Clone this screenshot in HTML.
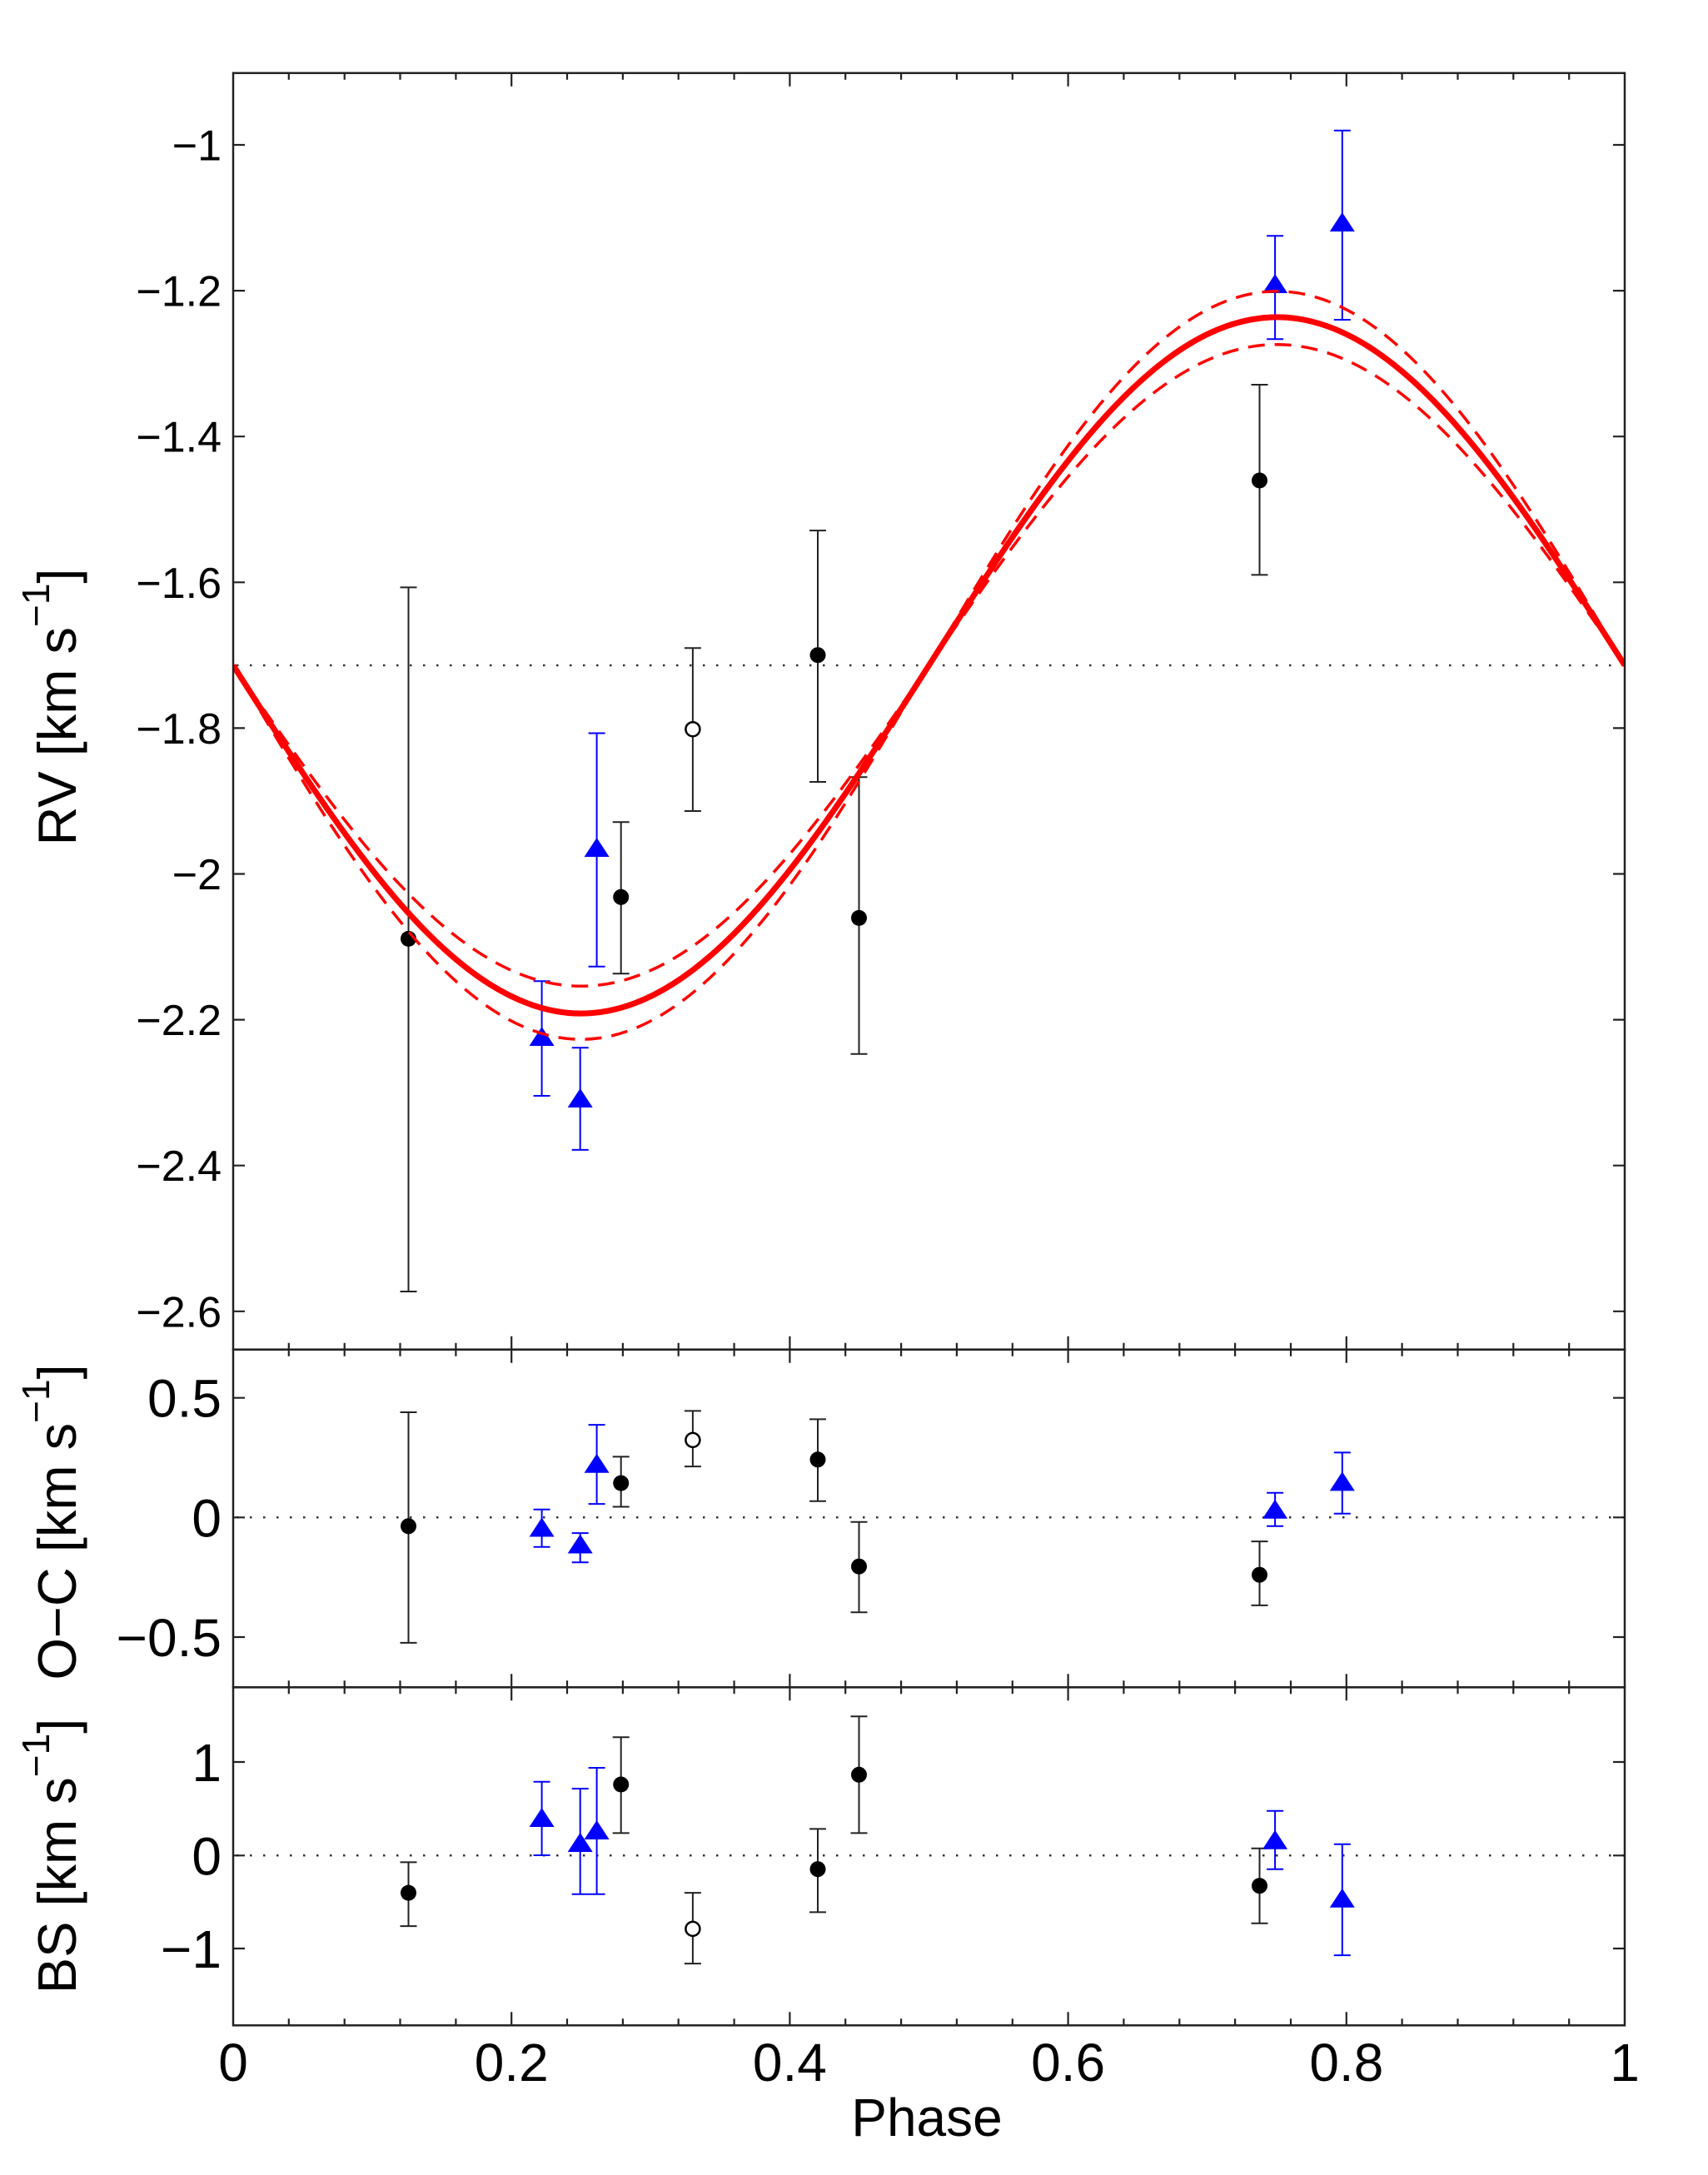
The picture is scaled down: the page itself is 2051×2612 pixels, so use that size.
<!DOCTYPE html>
<html>
<head>
<meta charset="utf-8">
<style>
html,body{margin:0;padding:0;background:#fff;}
svg{display:block;}
text{font-family:"Liberation Sans","DejaVu Sans",sans-serif;fill:#000;}
</style>
</head>
<body>
<svg width="2051" height="2612" viewBox="0 0 2051 2612" xmlns="http://www.w3.org/2000/svg">
<rect x="0" y="0" width="2051" height="2612" fill="#fff"/>
<defs>
<g id="xt" stroke="#222" stroke-width="2.2" fill="none">
<path d="M346.8,0v8M413.7,0v8M480.5,0v8M547.4,0v8M681,0v8M747.9,0v8M814.7,0v8M881.6,0v8M1015.2,0v8M1082.1,0v8M1148.9,0v8M1215.8,0v8M1349.4,0v8M1416.3,0v8M1483.1,0v8M1550,0v8M1683.6,0v8M1750.5,0v8M1817.3,0v8M1884.2,0v8"/>
<path d="M614.2,0v16M948.4,0v16M1282.6,0v16M1616.8,0v16"/>
</g>
<clipPath id="cTop"><rect x="280" y="87.7" width="1671" height="1533"/></clipPath>
</defs>

<!-- dotted zero lines -->
<g stroke="#333" stroke-width="2.5" stroke-dasharray="2.5 13.5" fill="none">
<path d="M284,799H1951"/>
<path d="M284,1822.3H1951"/>
<path d="M284,2228.3H1951"/>
</g>

<!-- ===== TOP PANEL DATA ===== -->
<g fill="none" stroke="#222" stroke-width="2">
<path d="M490.5,705.4V1551M480.5,705.4h20M480.5,1551h20"/>
<path d="M745.7,987.3V1169.3M735.7,987.3h20M735.7,1169.3h20"/>
<path d="M982,637.1V939M972,637.1h20M972,939h20"/>
<path d="M1031.5,933.3V1265.8M1021.5,933.3h20M1021.5,1265.8h20"/>
<path d="M1512.5,462V690.4M1502.5,462h20M1502.5,690.4h20"/>
<path d="M831.9,778.3V974M821.9,778.3h20M821.9,974h20"/>
</g>
<g fill="none" stroke="#0000ff" stroke-width="2">
<path d="M650.6,1178.3V1316M640.6,1178.3h20M640.6,1316h20"/>
<path d="M696.7,1258.3V1380.9M686.7,1258.3h20M686.7,1380.9h20"/>
<path d="M716.6,880.5V1160.7M706.6,880.5h20M706.6,1160.7h20"/>
<path d="M1531.1,283.3V407.3M1521.1,283.3h20M1521.1,407.3h20"/>
<path d="M1611.8,156.7V384M1601.8,156.7h20M1601.8,384h20"/>
</g>
<g fill="#000">
<circle cx="490.5" cy="1127.4" r="9.5"/>
<circle cx="745.7" cy="1077.3" r="9.5"/>
<circle cx="982" cy="786.7" r="9.5"/>
<circle cx="1031.5" cy="1102.4" r="9.5"/>
<circle cx="1512.5" cy="577" r="9.5"/>
</g>
<circle cx="831.9" cy="875.7" r="8.5" fill="#fff" stroke="#000" stroke-width="2.5"/>
<g fill="#0000ff">
<polygon points="650.6,1233 635.6,1256 665.6,1256"/>
<polygon points="696.7,1307 681.7,1330 711.7,1330"/>
<polygon points="716.6,1006 701.6,1029 731.6,1029"/>
<polygon points="1531.1,329 1516.1,352 1546.1,352"/>
<polygon points="1611.8,255 1596.8,278 1626.8,278"/>
</g>

<!-- model curves -->
<g clip-path="url(#cTop)" fill="none" stroke="#ff0000">
<path stroke-width="3.5" stroke-dasharray="20 12" d="M280,799 C416.24,996.4 546.57,1184.3 697.75,1184.3 S979.26,996.4 1115.5,799 S1382.07,413.7 1533.25,413.7 S1814.76,601.6 1951,799"/>
<path stroke-width="3.5" stroke-dasharray="20 12" d="M280,799 C416.24,1029.1 546.57,1248.2 697.75,1248.2 S979.26,1029.1 1115.5,799 S1382.07,349.8 1533.25,349.8 S1814.76,568.9 1951,799"/>
<path stroke-width="7" d="M280,799 C416.24,1013.2 546.57,1217.1 697.75,1217.1 S979.26,1013.2 1115.5,799 S1382.07,380.9 1533.25,380.9 S1814.76,584.8 1951,799"/>
</g>

<!-- ===== MIDDLE PANEL DATA ===== -->
<g fill="none" stroke="#222" stroke-width="2">
<path d="M490.5,1696V1972.9M480.5,1696h20M480.5,1972.9h20"/>
<path d="M745.7,1749.4V1809.5M735.7,1749.4h20M735.7,1809.5h20"/>
<path d="M982,1704.4V1802.8M972,1704.4h20M972,1802.8h20"/>
<path d="M1031.5,1827.8V1936.2M1021.5,1827.8h20M1021.5,1936.2h20"/>
<path d="M1512.5,1851.1V1927.9M1502.5,1851.1h20M1502.5,1927.9h20"/>
<path d="M831.9,1694.4V1761.1M821.9,1694.4h20M821.9,1761.1h20"/>
</g>
<g fill="none" stroke="#0000ff" stroke-width="2">
<path d="M650.6,1812.8V1857.8M640.6,1812.8h20M640.6,1857.8h20"/>
<path d="M696.7,1841.1V1876.2M686.7,1841.1h20M686.7,1876.2h20"/>
<path d="M716.6,1711.1V1806.1M706.6,1711.1h20M706.6,1806.1h20"/>
<path d="M1531.1,1792.8V1832.8M1521.1,1792.8h20M1521.1,1832.8h20"/>
<path d="M1611.8,1744.4V1817.8M1601.8,1744.4h20M1601.8,1817.8h20"/>
</g>
<g fill="#000">
<circle cx="490.5" cy="1832.8" r="9.5"/>
<circle cx="745.7" cy="1781.1" r="9.5"/>
<circle cx="982" cy="1752.8" r="9.5"/>
<circle cx="1031.5" cy="1881.2" r="9.5"/>
<circle cx="1512.5" cy="1891.2" r="9.5"/>
</g>
<circle cx="831.9" cy="1729.4" r="8.5" fill="#fff" stroke="#000" stroke-width="2.5"/>
<g fill="#0000ff">
<polygon points="650.6,1822.5 635.6,1845.5 665.6,1845.5"/>
<polygon points="696.7,1842.5 681.7,1865.5 711.7,1865.5"/>
<polygon points="716.6,1745.8 701.6,1768.8 731.6,1768.8"/>
<polygon points="1531.1,1800.8 1516.1,1823.8 1546.1,1823.8"/>
<polygon points="1611.8,1767.4 1596.8,1790.4 1626.8,1790.4"/>
</g>

<!-- ===== BOTTOM PANEL DATA ===== -->
<g fill="none" stroke="#222" stroke-width="2">
<path d="M490.5,2236.4V2313.1M480.5,2236.4h20M480.5,2313.1h20"/>
<path d="M745.7,2086.3V2201.4M735.7,2086.3h20M735.7,2201.4h20"/>
<path d="M982,2196.4V2296.4M972,2196.4h20M972,2296.4h20"/>
<path d="M1031.5,2061.3V2201.4M1021.5,2061.3h20M1021.5,2201.4h20"/>
<path d="M1512.5,2219.7V2309.8M1502.5,2219.7h20M1502.5,2309.8h20"/>
<path d="M831.9,2273.1V2358.1M821.9,2273.1h20M821.9,2358.1h20"/>
</g>
<g fill="none" stroke="#0000ff" stroke-width="2">
<path d="M650.6,2139.7V2228M640.6,2139.7h20M640.6,2228h20"/>
<path d="M696.7,2148V2274.7M686.7,2148h20M686.7,2274.7h20"/>
<path d="M716.6,2123V2274.7M706.6,2123h20M706.6,2274.7h20"/>
<path d="M1531.1,2174.7V2244.7M1521.1,2174.7h20M1521.1,2244.7h20"/>
<path d="M1611.8,2214.7V2348.1M1601.8,2214.7h20M1601.8,2348.1h20"/>
</g>
<g fill="#000">
<circle cx="490.5" cy="2273.1" r="9.5"/>
<circle cx="745.7" cy="2143" r="9.5"/>
<circle cx="982" cy="2244.7" r="9.5"/>
<circle cx="1031.5" cy="2131.3" r="9.5"/>
<circle cx="1512.5" cy="2264.7" r="9.5"/>
</g>
<circle cx="831.9" cy="2316.4" r="8.5" fill="#fff" stroke="#000" stroke-width="2.5"/>
<g fill="#0000ff">
<polygon points="650.6,2171 635.6,2194 665.6,2194"/>
<polygon points="696.7,2201 681.7,2224 711.7,2224"/>
<polygon points="716.6,2186 701.6,2209 731.6,2209"/>
<polygon points="1531.1,2197.7 1516.1,2220.7 1546.1,2220.7"/>
<polygon points="1611.8,2267.7 1596.8,2290.7 1626.8,2290.7"/>
</g>

<!-- ===== AXES ===== -->
<g fill="none" stroke="#222" stroke-width="2.5">
<rect x="280" y="87.7" width="1671" height="1533"/>
<rect x="280" y="1620.7" width="1671" height="405.6"/>
<rect x="280" y="2026.3" width="1671" height="406"/>
</g>
<use href="#xt" transform="translate(0,87.7)"/>
<use href="#xt" transform="translate(0,1620.7) scale(1,-1)"/>
<use href="#xt" transform="translate(0,1620.7)"/>
<use href="#xt" transform="translate(0,2026.3) scale(1,-1)"/>
<use href="#xt" transform="translate(0,2026.3)"/>
<use href="#xt" transform="translate(0,2432.3) scale(1,-1)"/>

<!-- y ticks -->
<g stroke="#222" stroke-width="2.2" fill="none">
<path d="M280,174h14M280,349.1h14M280,524.2h14M280,699.3h14M280,874.4h14M280,1049.5h14M280,1224.6h14M280,1399.7h14M280,1574.8h14"/>
<path d="M1951,174h-14M1951,349.1h-14M1951,524.2h-14M1951,699.3h-14M1951,874.4h-14M1951,1049.5h-14M1951,1224.6h-14M1951,1399.7h-14M1951,1574.8h-14"/>
<path d="M280,1678.7h14M280,1822.3h14M280,1966h14M1951,1678.7h-14M1951,1822.3h-14M1951,1966h-14"/>
<path d="M280,2116h14M280,2228.3h14M280,2340h14M1951,2116h-14M1951,2228.3h-14M1951,2340h-14"/>
</g>

<!-- tick labels top panel -->
<g font-size="52" text-anchor="end">
<text x="266" y="192.5">−1</text>
<text x="266" y="367.6">−1.2</text>
<text x="266" y="542.7">−1.4</text>
<text x="266" y="717.8">−1.6</text>
<text x="266" y="892.9">−1.8</text>
<text x="266" y="1068">−2</text>
<text x="266" y="1243.1">−2.2</text>
<text x="266" y="1418.2">−2.4</text>
<text x="266" y="1593.3">−2.6</text>
</g>
<g font-size="64" text-anchor="end">
<text x="266" y="1701.7">0.5</text>
<text x="266" y="1845.3">0</text>
<text x="266" y="1989">−0.5</text>
<text x="266" y="2139">1</text>
<text x="266" y="2251.3">0</text>
<text x="266" y="2363">−1</text>
</g>
<g font-size="64" text-anchor="middle">
<text x="280" y="2499">0</text>
<text x="614.2" y="2499">0.2</text>
<text x="948.4" y="2499">0.4</text>
<text x="1282.6" y="2499">0.6</text>
<text x="1616.8" y="2499">0.8</text>
<text x="1951" y="2499">1</text>
<text x="1113" y="2565">Phase</text>
</g>

<!-- y axis labels -->
<g font-size="65" text-anchor="middle">
<text transform="translate(91,849) rotate(-90)">RV [km s<tspan font-size="46" dy="-32">−1</tspan><tspan dy="32">]</tspan></text>
<text transform="translate(91,1828) rotate(-90)">O−C [km s<tspan font-size="46" dy="-32">−1</tspan><tspan dy="32">]</tspan></text>
<text transform="translate(91,2229) rotate(-90)">BS [km s<tspan font-size="46" dy="-32">−1</tspan><tspan dy="32">]</tspan></text>
</g>
</svg>
</body>
</html>
